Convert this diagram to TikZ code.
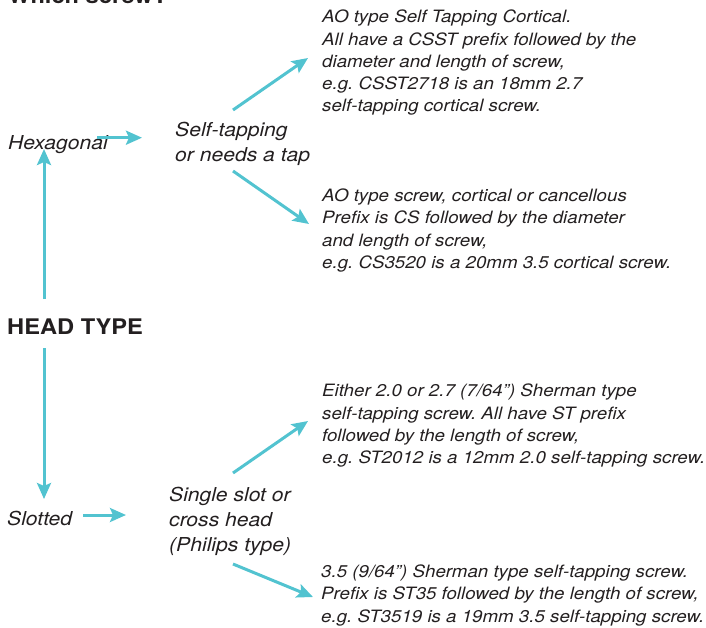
\documentclass[tikz,border=0pt]{standalone}
\usepackage{fontspec}
\setmainfont[FakeStretch=1.1]{TeX Gyre Heros}
\usetikzlibrary{arrows.meta}
\frenchspacing
\definecolor{teal1}{HTML}{52C3D0}
\definecolor{ink}{HTML}{231F20}
\tikzset{
  conn/.style={draw=teal1, line width=3pt, -{Stealth[length=16pt,width=14pt,inset=3pt]}},
  lbl/.style={anchor=base west, inner sep=0pt, text=ink, font=\fontsize{19.2}{25.5}\selectfont\itshape},
  desc/.style={anchor=base west, inner sep=0pt, text=ink, font=\fontsize{17}{22.3}\selectfont\itshape},
  head/.style={anchor=base west, inner sep=0pt, text=ink, font=\fontsize{21.5}{25}\selectfont\bfseries},
}
\begin{document}
\begin{tikzpicture}[x=1pt,y=-1pt]
\clip (0,0) rectangle (706,627);
% headings
\node[head] (which) at (8,3.5) {Which screw?};
\node[head] (headtype) at (7,334) {HEAD TYPE};
% left labels
\node[lbl] (hex) at (8,149.5) {Hexagonal};
\node[lbl] (slot) at (7,525) {Slotted};
% middle labels
\node[lbl] (st) at (175,136) {\begin{tabular}[t]{@{}l@{}}Self-tapping\\or needs a tap\end{tabular}};
\node[lbl] (ss) at (169,501.5) {\fontsize{19.2}{25}\selectfont\begin{tabular}[t]{@{}l@{}}Single slot or\\cross head\\(Philips type)\end{tabular}};
% descriptions
\node[desc] (d1) at (322,22.7) {\begin{tabular}[t]{@{}l@{}}AO type Self Tapping Cortical.\\All have a CSST prefix followed by the\\diameter and length of screw,\\e.g. CSST2718 is an 18mm 2.7\\self-tapping cortical screw.\end{tabular}};
\node[desc] (d2) at (322,201.5) {\begin{tabular}[t]{@{}l@{}}AO type screw, cortical or cancellous\\Prefix is CS followed by the diameter\\and length of screw,\\e.g. CS3520 is a 20mm 3.5 cortical screw.\end{tabular}};
\node[desc] (d3) at (322,396.7) {\begin{tabular}[t]{@{}l@{}}Either 2.0 or 2.7 (7/64”) Sherman type\\self-tapping screw. All have ST prefix\\followed by the length of screw,\\e.g. ST2012 is a 12mm 2.0 self-tapping screw.\end{tabular}};
\node[desc] (d4) at (321,577.5) {\begin{tabular}[t]{@{}l@{}}3.5 (9/64”) Sherman type self-tapping screw.\\Prefix is ST35 followed by the length of screw,\\e.g. ST3519 is a 19mm 3.5 self-tapping screw.\end{tabular}};
% connector end points
\coordinate (htup) at (44,299);
\coordinate (hextip) at (44,149);
\coordinate (htdown) at (44,348);
\coordinate (slottip) at (44,499);
\coordinate (hexout) at (97,137.7);
\coordinate (stin) at (142,137.7);
\coordinate (stup) at (233,110);
\coordinate (d1in) at (308,58);
\coordinate (stdown) at (233,171);
\coordinate (d2in) at (309,224);
\coordinate (slotout) at (83,515);
\coordinate (ssin) at (126,515);
\coordinate (ssup) at (233,473);
\coordinate (d3in) at (308,421);
\coordinate (ssdown) at (233,564);
\coordinate (d4in) at (313,597);
% connectors
\draw[conn] (htup) -- (hextip);
\draw[conn] (htdown) -- (slottip);
\draw[conn] (hexout) -- (stin);
\draw[conn] (stup) -- (d1in);
\draw[conn] (stdown) -- (d2in);
\draw[conn] (slotout) -- (ssin);
\draw[conn] (ssup) -- (d3in);
\draw[conn] (ssdown) -- (d4in);
\end{tikzpicture}
\end{document}
